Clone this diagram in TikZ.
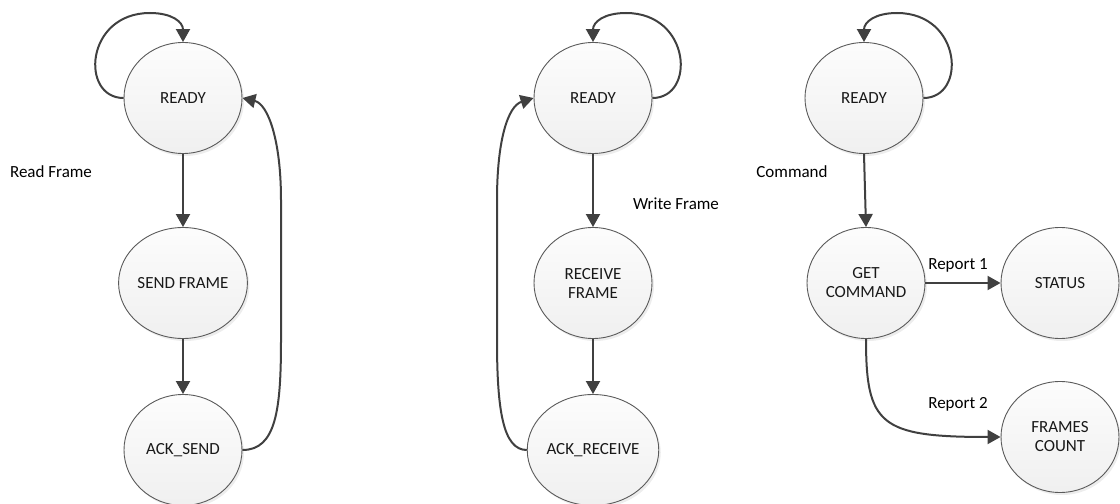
\documentclass[tikz,border=0pt]{standalone}
\usepackage{fontspec}
\setmainfont{Carlito}
\usetikzlibrary{shapes.geometric,arrows.meta,shadows}
\definecolor{edgegray}{HTML}{404040}
\definecolor{rimgray}{HTML}{5A5A5A}
\begin{document}
\begin{tikzpicture}[x=1bp,y=-1bp,
  font=\fontsize{17bp}{19bp}\selectfont,
  state/.style={ellipse, minimum width=118bp, minimum height=111bp, inner sep=0pt,
    draw=rimgray, line width=0.9bp, top color=white!99!black, bottom color=black!6,
    align=center, text=black!90,
    drop shadow={shadow xshift=2bp, shadow yshift=-2.5bp, fill=black!14, opacity=.5}},
  trans/.style={draw=edgegray, line width=2bp, -{Triangle[length=13bp,width=14bp]}},
  lbl/.style={text=black, inner sep=0pt}]
\useasboundingbox (0,0) rectangle (1120,504);

% read cycle
\node[state] (r1) at (183,98) {READY};
\node[state] (send) at (183,283) {SEND FRAME};
\node[state] (acks) at (183,450) {ACK\_SEND};
\node[lbl] (lread) at (51,172) {Read Frame};

% write cycle
\node[state] (r2) at (593,98) {READY};
\node[state] (recv) at (593,283) {RECEIVE\\FRAME};
\node[state] (ackr) at (593,450) {ACK\_RECEIVE};
\node[lbl] (lwrite) at (676,204) {Write Frame};

% command handling
\node[state] (r3) at (864,98) {READY};
\node[state] (getc) at (866,283) {GET\\COMMAND};
\node[state] (stat) at (1060,283) {STATUS};
\node[state] (fcnt) at (1060,437) {FRAMES\\COUNT};
\node[lbl] (lcmd) at (792,172) {Command};
\node[lbl] (lrep1) at (958,265) {Report 1};
\node[lbl] (lrep2) at (958,404) {Report 2};

% read cycle transitions
\draw[trans] (r1.west) .. controls (80,98) and (85,13) .. (150,13)
  .. controls (172,13) and (183,22) .. (r1.north);
\draw[trans] (r1.south) -- (send.north);
\draw[trans] (send.south) -- (acks.north);
\draw[trans] (acks.east) .. controls (276,450) and (281,410) .. (281,340)
  -- (281,200) .. controls (281,140) and (268,104) .. (r1.east);

% write cycle transitions
\draw[trans] (r2.east) .. controls (696,98) and (691,13) .. (626,13)
  .. controls (604,13) and (593,22) .. (r2.north);
\draw[trans] (r2.south) -- (recv.north);
\draw[trans] (recv.south) -- (ackr.north);
\draw[trans] (ackr.west) .. controls (503,450) and (497,410) .. (497,340)
  -- (497,200) .. controls (497,140) and (508,106) .. (r2.west);

% command transitions
\draw[trans] (r3.east) .. controls (967,98) and (962,13) .. (897,13)
  .. controls (875,13) and (864,22) .. (r3.north);
\draw[trans] (r3.south) -- (getc.north);
\draw[trans] (getc.east) -- (stat.west);
\draw[trans] (getc.south) .. controls (866,425) and (880,437) .. (fcnt.west);
\end{tikzpicture}
\end{document}
